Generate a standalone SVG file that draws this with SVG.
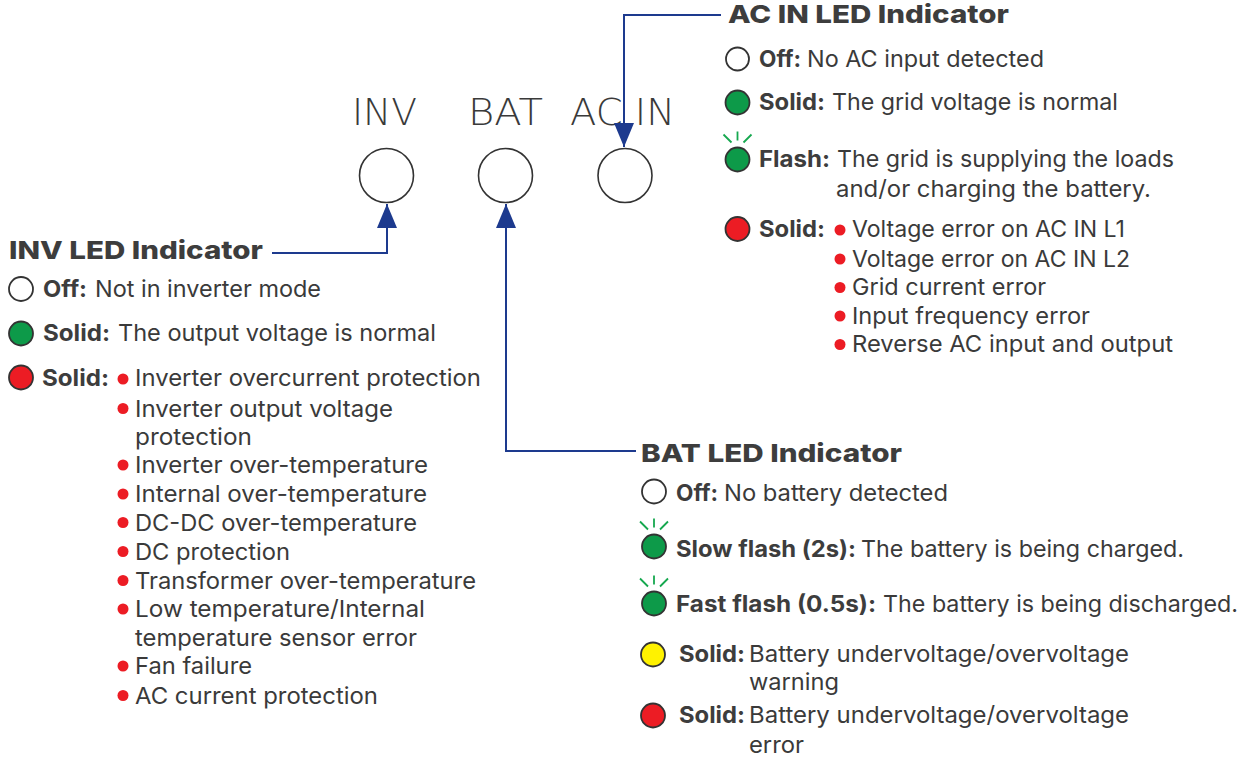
<svg xmlns="http://www.w3.org/2000/svg" width="1249" height="758" viewBox="0 0 1249 758">
<defs>
<style>
text{lengthAdjust:spacingAndGlyphs}
.big{font-family:"DejaVu Sans",sans-serif;font-weight:200;font-size:37px;fill:#3a3a3a}
.h{font-family:Inter,"Liberation Sans",sans-serif;font-weight:800;font-size:25px;fill:#3d3d3d}
.b{font-family:Inter,"Liberation Sans",sans-serif;font-weight:700;font-size:23px;fill:#3d3d3d}
.t{font-family:Inter,"Liberation Sans",sans-serif;font-weight:400;font-size:23px;fill:#3a3a3a}
.led{fill:#fff;stroke:#333;stroke-width:1.6}
.off{fill:#fff;stroke:#333;stroke-width:1.8}
.g{fill:#0d9a49;stroke:#333;stroke-width:1.8}
.r{fill:#ec1c24;stroke:#333;stroke-width:1.8}
.y{fill:#fff200;stroke:#333;stroke-width:1.8}
.dot{fill:#ec1c24}
.ray{stroke:#16a84f;stroke-width:1.8;fill:none}
.conn{fill:none;stroke:#1d3a8e;stroke-width:2}
</style>
<marker id="ah" viewBox="0 0 24 20" refX="24" refY="10" markerWidth="24" markerHeight="20" markerUnits="userSpaceOnUse" orient="auto">
<path d="M0,0 L24,10 L0,20 Z" fill="#1d3a8e"/>
</marker>
<g id="rays"><path class="ray" d="M-14,-25 L-6,-17 M0,-28 L0,-19 M14,-25 L6,-17"/></g>
</defs>
<rect width="1249" height="758" fill="#fff"/>

<g id="led-inv">
<text class="big" x="352" y="125" textLength="65" lengthAdjust="spacingAndGlyphs">INV</text>
<circle class="led" cx="386.5" cy="175.5" r="27"/>
</g>
<g id="led-bat">
<text class="big" x="468" y="125" textLength="75" lengthAdjust="spacingAndGlyphs">BAT</text>
<circle class="led" cx="505.5" cy="175.5" r="27"/>
</g>
<g id="led-acin">
<text class="big" x="570" y="125" textLength="105" lengthAdjust="spacingAndGlyphs">AC IN</text>
<circle class="led" cx="625" cy="175.5" r="27"/>
</g>

<g id="connectors">
<path class="conn" d="M272,253 H387 V204" marker-end="url(#ah)"/>
<path class="conn" d="M636,451 H506 V204" marker-end="url(#ah)"/>
<path class="conn" d="M721,15 H624 V147" marker-end="url(#ah)"/>
</g>

<g id="panel-inv">
<text class="h" x="9" y="259" textLength="254" lengthAdjust="spacingAndGlyphs">INV LED Indicator</text>
<circle class="off" cx="21" cy="289" r="12"/>
<text class="b" x="43" y="297" textLength="44" lengthAdjust="spacingAndGlyphs">Off:</text>
<text class="t" x="95" y="297" textLength="226" lengthAdjust="spacingAndGlyphs">Not in inverter mode</text>
<circle class="g" cx="21" cy="333.5" r="12"/>
<text class="b" x="43" y="341" textLength="67" lengthAdjust="spacingAndGlyphs">Solid:</text>
<text class="t" x="118" y="341" textLength="318" lengthAdjust="spacingAndGlyphs">The output voltage is normal</text>
<circle class="r" cx="21" cy="377.5" r="12"/>
<text class="b" x="42" y="386" textLength="67" lengthAdjust="spacingAndGlyphs">Solid:</text>
<circle class="dot" cx="123" cy="379" r="5.5"/>
<text class="t" x="135" y="386" textLength="346" lengthAdjust="spacingAndGlyphs">Inverter overcurrent protection</text>
<circle class="dot" cx="123" cy="408.5" r="5.5"/>
<text class="t" x="135" y="416.5" textLength="258" lengthAdjust="spacingAndGlyphs">Inverter output voltage</text>
<text class="t" x="135" y="445" textLength="117" lengthAdjust="spacingAndGlyphs">protection</text>
<circle class="dot" cx="123" cy="465" r="5.5"/>
<text class="t" x="135" y="473" textLength="293" lengthAdjust="spacingAndGlyphs">Inverter over-temperature</text>
<circle class="dot" cx="123" cy="494" r="5.5"/>
<text class="t" x="135" y="502" textLength="292" lengthAdjust="spacingAndGlyphs">Internal over-temperature</text>
<circle class="dot" cx="123" cy="522.5" r="5.5"/>
<text class="t" x="135" y="530.5" textLength="282" lengthAdjust="spacingAndGlyphs">DC-DC over-temperature</text>
<circle class="dot" cx="123" cy="551.5" r="5.5"/>
<text class="t" x="135" y="559.5" textLength="155" lengthAdjust="spacingAndGlyphs">DC protection</text>
<circle class="dot" cx="123" cy="580.5" r="5.5"/>
<text class="t" x="135" y="588.5" textLength="341" lengthAdjust="spacingAndGlyphs">Transformer over-temperature</text>
<circle class="dot" cx="123" cy="609" r="5.5"/>
<text class="t" x="135" y="617" textLength="290" lengthAdjust="spacingAndGlyphs">Low temperature/Internal</text>
<text class="t" x="135" y="645.5" textLength="282" lengthAdjust="spacingAndGlyphs">temperature sensor error</text>
<circle class="dot" cx="123" cy="666" r="5.5"/>
<text class="t" x="135" y="674" textLength="117" lengthAdjust="spacingAndGlyphs">Fan failure</text>
<circle class="dot" cx="123" cy="695.5" r="5.5"/>
<text class="t" x="135" y="703.5" textLength="243" lengthAdjust="spacingAndGlyphs">AC current protection</text>
</g>

<g id="panel-acin">
<text class="h" x="728" y="23" textLength="281" lengthAdjust="spacingAndGlyphs">AC IN LED Indicator</text>
<circle class="off" cx="737.5" cy="59" r="11.5"/>
<text class="b" x="759" y="67" textLength="42" lengthAdjust="spacingAndGlyphs">Off:</text>
<text class="t" x="807" y="67" textLength="237" lengthAdjust="spacingAndGlyphs">No AC input detected</text>
<circle class="g" cx="737.5" cy="102.5" r="12"/>
<text class="b" x="759" y="110" textLength="66" lengthAdjust="spacingAndGlyphs">Solid:</text>
<text class="t" x="832" y="110" textLength="286" lengthAdjust="spacingAndGlyphs">The grid voltage is normal</text>
<use href="#rays" x="737.5" y="159.5"/>
<circle class="g" cx="737.5" cy="159.5" r="12"/>
<text class="b" x="759" y="167" textLength="71" lengthAdjust="spacingAndGlyphs">Flash:</text>
<text class="t" x="837" y="167" textLength="337" lengthAdjust="spacingAndGlyphs">The grid is supplying the loads</text>
<text class="t" x="836" y="197" textLength="315" lengthAdjust="spacingAndGlyphs">and/or charging the battery.</text>
<circle class="r" cx="737.5" cy="229" r="12"/>
<text class="b" x="759" y="237" textLength="66" lengthAdjust="spacingAndGlyphs">Solid:</text>
<circle class="dot" cx="840" cy="230" r="5.5"/>
<text class="t" x="852" y="237" textLength="273" lengthAdjust="spacingAndGlyphs">Voltage error on AC IN L1</text>
<circle class="dot" cx="840" cy="259" r="5.5"/>
<text class="t" x="852" y="266.5" textLength="278" lengthAdjust="spacingAndGlyphs">Voltage error on AC IN L2</text>
<circle class="dot" cx="840" cy="287.5" r="5.5"/>
<text class="t" x="852" y="295" textLength="194" lengthAdjust="spacingAndGlyphs">Grid current error</text>
<circle class="dot" cx="840" cy="316" r="5.5"/>
<text class="t" x="852" y="323.5" textLength="238" lengthAdjust="spacingAndGlyphs">Input frequency error</text>
<circle class="dot" cx="840" cy="344.5" r="5.5"/>
<text class="t" x="852" y="352" textLength="321" lengthAdjust="spacingAndGlyphs">Reverse AC input and output</text>
</g>

<g id="panel-bat">
<text class="h" x="641" y="462" textLength="261" lengthAdjust="spacingAndGlyphs">BAT LED Indicator</text>
<circle class="off" cx="654" cy="491.5" r="12"/>
<text class="b" x="676" y="501" textLength="42" lengthAdjust="spacingAndGlyphs">Off:</text>
<text class="t" x="724" y="501" textLength="224" lengthAdjust="spacingAndGlyphs">No battery detected</text>
<use href="#rays" x="654" y="546.5"/>
<circle class="g" cx="654" cy="546.5" r="12"/>
<text class="b" x="676" y="557" textLength="180" lengthAdjust="spacingAndGlyphs">Slow flash (2s):</text>
<text class="t" x="861" y="557" textLength="323" lengthAdjust="spacingAndGlyphs">The battery is being charged.</text>
<use href="#rays" x="654" y="603.5"/>
<circle class="g" cx="654" cy="603.5" r="12"/>
<text class="b" x="676" y="612" textLength="200" lengthAdjust="spacingAndGlyphs">Fast flash (0.5s):</text>
<text class="t" x="883" y="612" textLength="355" lengthAdjust="spacingAndGlyphs">The battery is being discharged.</text>
<circle class="y" cx="653" cy="654.5" r="12"/>
<text class="b" x="679" y="662" textLength="66" lengthAdjust="spacingAndGlyphs">Solid:</text>
<text class="t" x="749" y="662" textLength="380" lengthAdjust="spacingAndGlyphs">Battery undervoltage/overvoltage</text>
<text class="t" x="749" y="690" textLength="90" lengthAdjust="spacingAndGlyphs">warning</text>
<circle class="r" cx="653" cy="715.5" r="12"/>
<text class="b" x="679" y="723" textLength="66" lengthAdjust="spacingAndGlyphs">Solid:</text>
<text class="t" x="749" y="723" textLength="380" lengthAdjust="spacingAndGlyphs">Battery undervoltage/overvoltage</text>
<text class="t" x="749" y="752.5" textLength="55" lengthAdjust="spacingAndGlyphs">error</text>
</g>
</svg>
